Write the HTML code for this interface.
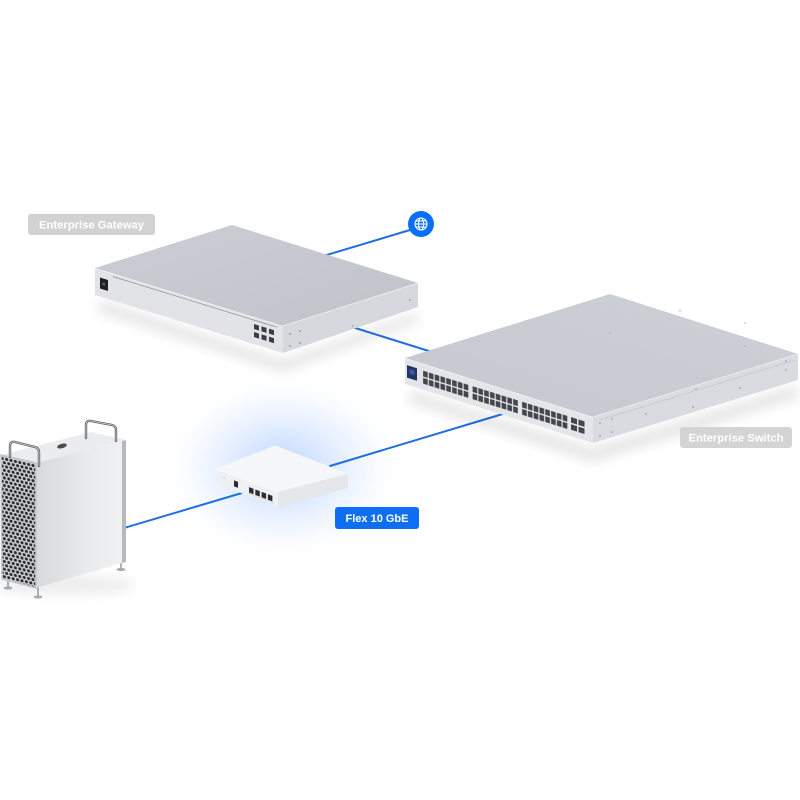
<!DOCTYPE html>
<html><head><meta charset="utf-8"><style>
html,body{margin:0;padding:0;background:#fff;}
svg{display:block;}
text{font-family:"Liberation Sans",sans-serif;font-weight:bold;}
</style></head><body>
<svg width="800" height="800" viewBox="0 0 800 800" xmlns="http://www.w3.org/2000/svg">
<defs>
  <radialGradient id="glow" cx="0.5" cy="0.5" r="0.5">
    <stop offset="0" stop-color="#b3cfff" stop-opacity="0.85"/>
    <stop offset="0.4" stop-color="#cde0ff" stop-opacity="0.65"/>
    <stop offset="0.72" stop-color="#e6f0ff" stop-opacity="0.4"/>
    <stop offset="1" stop-color="#ffffff" stop-opacity="0"/>
  </radialGradient>
  <filter id="blur6" x="-50%" y="-50%" width="200%" height="200%"><feGaussianBlur stdDeviation="6"/></filter>
  <filter id="blur3" x="-50%" y="-50%" width="200%" height="200%"><feGaussianBlur stdDeviation="3"/></filter>
  <linearGradient id="gwTop" x1="0" y1="0" x2="1" y2="1">
    <stop offset="0" stop-color="#cbced5"/>
    <stop offset="1" stop-color="#c0c3ca"/>
  </linearGradient>
  <linearGradient id="swTop" x1="0" y1="1" x2="1" y2="0">
    <stop offset="0" stop-color="#c5c8cf"/>
    <stop offset="1" stop-color="#cdd0d6"/>
  </linearGradient>
  <linearGradient id="macSide" x1="0" y1="0" x2="1" y2="0">
    <stop offset="0" stop-color="#d8d9dc"/>
    <stop offset="0.6" stop-color="#e9eaec"/>
    <stop offset="1" stop-color="#f0f1f2"/>
  </linearGradient>
  <pattern id="port" width="5.8" height="7.2" patternUnits="userSpaceOnUse">
    <rect x="0.6" y="0.5" width="4.6" height="5.8" fill="#43464c"/>
  </pattern>
  <pattern id="holes" width="4.4" height="7.6" patternUnits="userSpaceOnUse" patternTransform="skewY(13)">
    <rect width="4.4" height="7.6" fill="#d2d3d6"/>
    <circle cx="2.2" cy="1.9" r="1.55" fill="#2c2e33"/>
    <circle cx="0" cy="5.7" r="1.55" fill="#2c2e33"/>
    <circle cx="4.4" cy="5.7" r="1.55" fill="#2c2e33"/>
  </pattern>
</defs>

<rect width="800" height="800" fill="#fff"/>

<!-- glow around flex -->
<ellipse cx="283" cy="468" rx="122" ry="95" fill="url(#glow)"/>

<!-- connectors -->
<g stroke="#1f6fe0" stroke-width="2" fill="none" stroke-linecap="round">
  <line x1="410" y1="230" x2="320" y2="257"/>
  <line x1="352" y1="327" x2="432" y2="352"/>
  <line x1="506" y1="413" x2="330" y2="466"/>
  <line x1="252" y1="490" x2="124" y2="528"/>
</g>

<!-- globe -->
<circle cx="421" cy="224" r="13" fill="#0b6ff5"/>
<g stroke="#fff" stroke-width="1.1" fill="none">
  <circle cx="421" cy="224" r="6"/>
  <ellipse cx="421" cy="224" rx="2.6" ry="6"/>
  <line x1="415" y1="224" x2="427" y2="224"/>
  <line x1="416" y1="221" x2="426" y2="221"/>
  <line x1="416" y1="227" x2="426" y2="227"/>
</g>

<!-- ============ GATEWAY ============ -->
<polygon points="100,300 283,360 418,312 418,322 283,372 98,312" fill="#000" opacity="0.10" filter="url(#blur6)"/>
<polygon points="95,268 232,225 418,283 283,326" fill="url(#gwTop)"/>
<polygon points="283,326 418,283 418,307 283,353" fill="#d6d8dd"/>
<line x1="283" y1="326" x2="418" y2="283" stroke="#eceef1" stroke-width="0.8"/>
<g transform="matrix(1,0.3085,0,1,95,268)">
  <rect x="0" y="0" width="188" height="27" fill="#e2e3e7"/>
  <line x1="0" y1="0.4" x2="188" y2="0.4" stroke="#eef0f2" stroke-width="0.8"/>
  <line x1="18" y1="3" x2="182" y2="3" stroke="#8e9198" stroke-width="0.8"/>
  <rect x="5" y="8" width="8" height="11" fill="#1f2024"/>
  <rect x="7.5" y="12" width="2.5" height="2.5" fill="#666"/>
  <g fill="#3a3d43">
    <rect x="159" y="7" width="5" height="5"/>
    <rect x="166.5" y="7" width="5" height="5"/>
    <rect x="174" y="7" width="5" height="5"/>
    <rect x="159" y="15" width="5" height="5"/>
    <rect x="166.5" y="15" width="5" height="5"/>
    <rect x="174" y="15" width="5" height="5"/>
  </g>
</g>
<g fill="#8a8d93">
  <circle cx="290" cy="334" r="0.9"/><circle cx="300" cy="331" r="0.9"/>
  <circle cx="290" cy="346" r="0.9"/><circle cx="300" cy="343" r="0.9"/>
  <circle cx="353" cy="326" r="0.8"/><circle cx="410" cy="300" r="0.8"/>
</g>

<!-- ============ SWITCH ============ -->
<polygon points="410,390 593,448 798,385 798,398 593,462 408,402" fill="#000" opacity="0.10" filter="url(#blur6)"/>
<polygon points="405,358 610,294 798,354 593,417" fill="url(#swTop)"/>
<polygon points="593,417 798,354 798,380 593,443" fill="#d9dbe0"/>
<line x1="593" y1="417" x2="798" y2="354" stroke="#eceef1" stroke-width="0.8"/>
<line x1="600" y1="420" x2="795" y2="360" stroke="#b9bcc2" stroke-width="0.5"/>
<g transform="matrix(1,0.3138,0,1,405,358)">
  <rect x="0" y="0" width="188" height="26" fill="#e4e5e9"/>
  <line x1="0" y1="0.4" x2="188" y2="0.4" stroke="#f0f1f3" stroke-width="0.8"/>
  <rect x="2" y="6.5" width="10" height="12.5" fill="#22345f"/>
  <rect x="4.5" y="9.5" width="5" height="5" fill="#3b5aa0"/>
  <g transform="translate(17.5,6.5)"><rect width="46.4" height="14.4" fill="url(#port)"/></g>
  <g transform="translate(67,6.5)"><rect width="46.4" height="14.4" fill="url(#port)"/></g>
  <g transform="translate(116.5,6.5)"><rect width="46.4" height="14.4" fill="url(#port)"/></g>
  <g fill="#43464c">
    <rect x="166" y="7" width="6" height="5.5"/>
    <rect x="173.5" y="7" width="6" height="5.5"/>
    <rect x="166" y="14.2" width="6" height="5.5"/>
    <rect x="173.5" y="14.2" width="6" height="5.5"/>
  </g>
</g>
<g fill="#8a8d93">
  <circle cx="600" cy="423" r="0.8"/><circle cx="600" cy="436" r="0.8"/>
  <circle cx="612" cy="419" r="0.8"/><circle cx="612" cy="432" r="0.8"/>
  <circle cx="646" cy="414" r="0.8"/><circle cx="693" cy="407" r="0.8"/>
  <circle cx="740" cy="388" r="0.8"/><circle cx="786" cy="361" r="0.8"/><circle cx="786" cy="370" r="0.8"/>
  <circle cx="696" cy="389" r="0.7"/><circle cx="745" cy="346" r="0.6"/><circle cx="745" cy="323" r="0.6"/>
  <circle cx="610" cy="333" r="0.6"/><circle cx="680" cy="311" r="0.6"/>
</g>

<!-- ============ FLEX ============ -->
<polygon points="217,470 275,447 347,475 278,493" fill="#f6f7f9" stroke="#f6f7f9" stroke-width="3" stroke-linejoin="round"/>
<polygon points="278,493 347,475 347,487 278,507" fill="#e5e7eb" stroke="#e5e7eb" stroke-width="2" stroke-linejoin="round"/>
<g transform="matrix(1,0.377,0,1,217,470)">
  <rect x="0" y="0" width="61" height="14" fill="#eef0f3"/>
  <rect x="17" y="4" width="4" height="6" fill="#2b2d31"/>
  <g fill="#2b2d31">
    <rect x="32" y="5" width="4.5" height="5.5"/>
    <rect x="38.3" y="5" width="4.5" height="5.5"/>
    <rect x="44.6" y="5" width="4.5" height="5.5"/>
    <rect x="50.9" y="5" width="4.5" height="5.5"/>
  </g>
  <line x1="31" y1="11.8" x2="57" y2="11.8" stroke="#c4c6ca" stroke-width="0.6"/>
  <circle cx="7" cy="5" r="0.6" fill="#bbb"/>
</g>

<!-- ============ MAC PRO ============ -->
<ellipse cx="65" cy="585" rx="70" ry="10" fill="#000" opacity="0.07" filter="url(#blur6)"/>
<g stroke="#9a9da2" stroke-width="1.6">
  <line x1="8" y1="576" x2="8" y2="587"/>
  <line x1="38" y1="585" x2="38" y2="596"/>
  <line x1="121" y1="560" x2="121" y2="569"/>
</g>
<g fill="#a9acb1">
  <ellipse cx="8" cy="588" rx="4.5" ry="1.6"/>
  <ellipse cx="38" cy="597" rx="4.5" ry="1.6"/>
  <ellipse cx="121" cy="569.5" rx="4.5" ry="1.6"/>
</g>
<polygon points="1,455 91,432 126,440 36,463" fill="#ebecee"/>
<ellipse cx="62" cy="446" rx="5" ry="2.2" fill="#4a4c50" transform="rotate(-14 62 446)"/>
<polygon points="36,463 122,441 122,563 36,588" fill="url(#macSide)"/>
<polygon points="122,441 126,440 126,562 122,563" fill="#b8b9bc"/>
<polygon points="1,455 36,463 36,588 2,579" fill="url(#holes)" stroke="#c6c7ca" stroke-width="1.6"/>
<g fill="none" stroke-linecap="round" stroke-linejoin="round">
  <path d="M10,457 L10,446 Q10,441 15,442 L35,447 Q39,448 39,452 L39,466" stroke="#5e6167" stroke-width="2.4"/>
  <path d="M10,457 L10,446 Q10,441 15,442 L35,447 Q39,448 39,452 L39,466" stroke="#d3d5d9" stroke-width="0.8"/>
  <path d="M86,438 L86,425 Q86,420 91,421 L112,425 Q116,426 116,430 L116,441" stroke="#5e6167" stroke-width="2.4"/>
  <path d="M86,438 L86,425 Q86,420 91,421 L112,425 Q116,426 116,430 L116,441" stroke="#d3d5d9" stroke-width="0.8"/>
</g>

<!-- ============ LABELS ============ -->
<rect x="28" y="214" width="127" height="21" rx="3" fill="#d2d2d2"/>
<text x="91.5" y="228.5" font-size="11" fill="#fff" text-anchor="middle" textLength="105" lengthAdjust="spacingAndGlyphs">Enterprise Gateway</text>

<rect x="680" y="427" width="112" height="21" rx="3" fill="#d4d4d4"/>
<text x="736" y="441.5" font-size="11" fill="#fff" text-anchor="middle" textLength="95" lengthAdjust="spacingAndGlyphs">Enterprise Switch</text>

<rect x="335" y="507" width="84" height="22" rx="3" fill="#0f6ff2"/>
<text x="377" y="522" font-size="11" fill="#fff" text-anchor="middle" textLength="63" lengthAdjust="spacingAndGlyphs">Flex 10 GbE</text>
</svg>
</body></html>
